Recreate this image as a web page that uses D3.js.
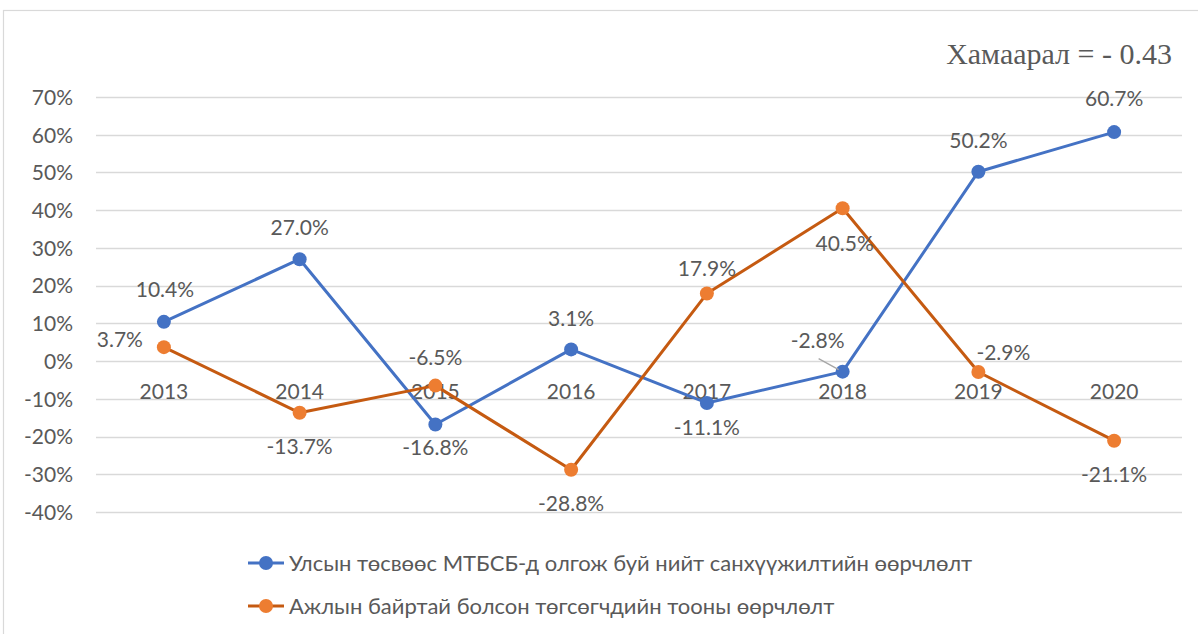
<!DOCTYPE html>
<html>
<head>
<meta charset="utf-8">
<script src="https://cdn.jsdelivr.net/npm/d3@7"></script>
<style>
  html, body { margin: 0; padding: 0; background: #fff; }
  svg { display: block; }
</style>
</head>
<body>
<svg id="chart" width="1198" height="634"></svg>
<script>
// Years on the category axis
const years = ["2013", "2014", "2015", "2016", "2017", "2018", "2019", "2020"];
// Change in state budget financing (%)
const budgetChange = [10.4, 27.0, -16.8, 3.1, -11.1, -2.8, 50.2, 60.7];
// Change in number of employed graduates (%)
const employedChange = [3.7, -13.7, -6.5, -28.8, 17.9, 40.5, -2.9, -21.1];
// Value axis ticks (%)
const yTicks = [-40, -30, -20, -10, 0, 10, 20, 30, 40, 50, 60, 70];
const seriesNames = [
  "Улсын төсвөөс МТБСБ-д олгож буй нийт санхүүжилтийн өөрчлөлт",
  "Ажлын байртай болсон төгсөгчдийн тооны өөрчлөлт"
];
const correlationText = "Хамаарал = - 0.43";

// Label placement per point: [dx, dy] offset of label centre from the marker
const budgetLabelPos = [[1,-32],[0,-32],[0,23],[0,-31],[0,25],[-25,-31],[0,-31],[0,-33]];
const employedLabelPos = [[-44,-7],[0,34],[0,-28],[0,34],[0,-25],[2,35],[25,-19],[0,34]];

const svg = d3.select("#chart");
const font = "Lato, 'Open Sans', sans-serif";
const textColor = "#595959";
const fs = 21;

// Chart frame
svg.append("rect")
  .attr("x", 3.5).attr("y", 10.5)
  .attr("width", 1300).attr("height", 700)
  .attr("fill", "none").attr("stroke", "#d9d9d9").attr("stroke-width", 1.2);

const x = d3.scaleBand().domain(years).range([96, 1182]);
const y = d3.scaleLinear().domain([-40, 70]).range([512, 97]);
const cx = d => x(d) + x.bandwidth() / 2;

// Gridlines
svg.append("g").selectAll("line").data(yTicks).join("line")
  .attr("x1", 96).attr("x2", 1182)
  .attr("y1", d => Math.round(y(d)) + 0.5).attr("y2", d => Math.round(y(d)) + 0.5)
  .attr("stroke", "#d9d9d9").attr("stroke-width", 1.3);

// Value axis labels
const yAxis = d3.axisLeft(y).tickValues(yTicks).tickFormat(d => d + "%").tickSize(0).tickPadding(0);
const yg = svg.append("g").attr("transform", "translate(73,0)").call(yAxis);
yg.select(".domain").remove();
yg.selectAll("text").attr("fill", textColor).attr("font-family", font).attr("font-size", fs).attr("dy", "0.35em");

// Category axis labels (axis crosses at 0)
const xAxis = d3.axisBottom(x).tickSize(0).tickPadding(0);
const xg = svg.append("g").attr("transform", `translate(0,${y(0) + 38})`).call(xAxis);
xg.select(".domain").remove();
xg.selectAll("text").attr("fill", textColor).attr("font-family", font).attr("font-size", fs).attr("dy", "0");

const line = d3.line().x((d, i) => cx(years[i])).y(d => y(d));

function drawSeries(values, lineColor, markerColor, labelPos) {
  svg.append("path").datum(values)
    .attr("d", line).attr("fill", "none")
    .attr("stroke", lineColor).attr("stroke-width", 3).attr("stroke-linejoin", "round");
  svg.append("g").selectAll("circle").data(values).join("circle")
    .attr("cx", (d, i) => cx(years[i])).attr("cy", d => y(d)).attr("r", 7)
    .attr("fill", markerColor);
  svg.append("g").selectAll("text").data(values).join("text")
    .attr("x", (d, i) => cx(years[i]) + labelPos[i][0])
    .attr("y", (d, i) => y(d) + labelPos[i][1])
    .attr("dy", "0.35em").attr("text-anchor", "middle")
    .attr("fill", textColor).attr("font-family", font).attr("font-size", fs)
    .text(d => d.toFixed(1) + "%");
}

drawSeries(budgetChange, "#4472c4", "#4472c4", budgetLabelPos);
drawSeries(employedChange, "#c55a11", "#ed7d31", employedLabelPos);

// Leader line for the 2018 budget label
svg.append("line")
  .attr("x1", cx("2018") - 24).attr("y1", y(budgetChange[5]) - 13)
  .attr("x2", cx("2018") - 4).attr("y2", y(budgetChange[5]) - 2)
  .attr("stroke", "#a6a6a6").attr("stroke-width", 1.3);

// Correlation note
svg.append("text")
  .attr("x", 1172).attr("y", 64).attr("text-anchor", "end")
  .attr("fill", textColor).attr("font-family", "'Liberation Serif', 'Times New Roman', serif")
  .attr("font-size", 30).text(correlationText);

// Legend
const legend = [
  { name: seriesNames[0], line: "#4472c4", marker: "#4472c4", y: 563 },
  { name: seriesNames[1], line: "#c55a11", marker: "#ed7d31", y: 606 }
];
const lg = svg.append("g").selectAll("g").data(legend).join("g");
lg.append("line").attr("x1", 248).attr("x2", 284)
  .attr("y1", d => d.y).attr("y2", d => d.y)
  .attr("stroke", d => d.line).attr("stroke-width", 3);
lg.append("circle").attr("cx", 266).attr("cy", d => d.y).attr("r", 7).attr("fill", d => d.marker);
lg.append("text").attr("x", 289).attr("y", d => d.y).attr("dy", "0.35em")
  .attr("fill", textColor).attr("font-family", font).attr("font-size", 22)
  .text(d => d.name);
</script>
</body>
</html>
